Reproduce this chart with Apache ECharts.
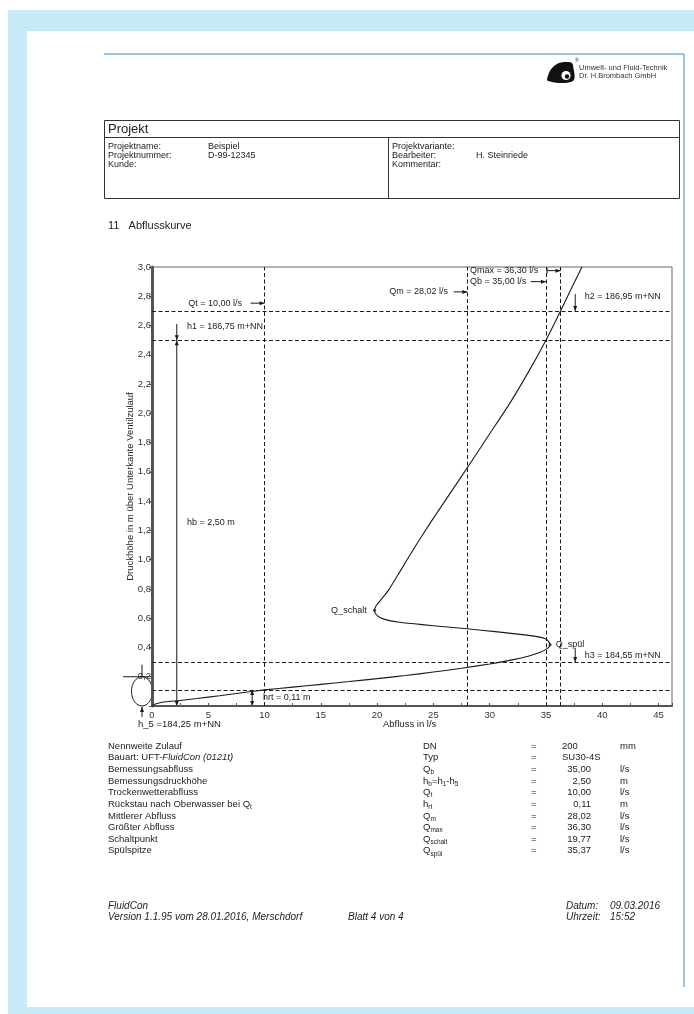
<!DOCTYPE html>
<html>
<head>
<meta charset="utf-8">
<script src="https://cdn.jsdelivr.net/npm/echarts/dist/echarts.min.js"></script>
<style>
html,body{margin:0;padding:0;background:#fff;}
#page{width:694px;height:1014px;}
</style>
</head>
<body>
<div id="page"></div>
<script>
const FONT = '"Liberation Sans", Arial, Helvetica, sans-serif';
const INK = '#1a1a1a';

// Abflusskurve: Abfluss Q [l/s] und Druckhöhe h [m über Unterkante Ventilzulauf]
const curveQ = [0, 0.3, 0.8, 1.5, 2.5, 4, 6, 8, 10, 12.5,
  15, 17.5, 20, 22.5, 25, 27.5, 30, 32, 33.5, 34.6,
  35.2, 35.37, 35.25, 35.0, 34.2, 32.5, 30.5, 28.0, 26.0, 24.0,
  22.0, 21.0, 20.3, 19.9, 19.77, 19.9, 20.3, 21.0, 22.0, 23.3,
  24.8, 26.5, 28.2, 30.0, 31.8, 33.5, 35.0, 36.3, 37.3, 38.2];
const curveH = [0, 0.013, 0.024, 0.031, 0.038, 0.051, 0.070, 0.091, 0.110, 0.129,
  0.148, 0.167, 0.187, 0.208, 0.232, 0.258, 0.287, 0.315, 0.342, 0.370,
  0.397, 0.418, 0.440, 0.458, 0.474, 0.491, 0.508, 0.528, 0.542, 0.556,
  0.572, 0.585, 0.603, 0.627, 0.655, 0.683, 0.722, 0.790, 0.915, 1.080,
  1.260, 1.455, 1.650, 1.860, 2.070, 2.290, 2.500, 2.700, 2.860, 3.000];

// Kennwerte der Drossel
const flowNames = ['Qt', 'Qm', 'Qb', 'Qmax'];
const flowValues = [10.00, 28.02, 35.00, 36.30];
const h5 = 184.25;                       // Unterkante Ventilzulauf [m+NN]
const levelNames = ['h1', 'h2', 'h3'];
const levelAbs = [186.75, 186.95, 184.55];
const hrt = 0.11;
const hb = 2.50;
const pipeDN = 0.200;                    // Nennweite Zulauf [m]
const schaltPoint = [19.77, 0.655];
const spuelPoint = [35.37, 0.418];

// Achsen
const xMin = 0, xMax = 46.2, xStep = 5;
const yMin = 0, yMax = 3.0, yStep = 0.2;

// Kenndaten-Tabelle
const specLabels = ['Nennweite Zulauf', '{n|Bauart: UFT-}{i|FluidCon (0121t)}', 'Bemessungsabfluss',
  'Bemessungsdruckhöhe', 'Trockenwetterabfluss', '{n|Rückstau nach Oberwasser bei Q}{s|t}',
  'Mittlerer Abfluss', 'Größter Abfluss', 'Schaltpunkt', 'Spülspitze'];
const specSymbols = ['{n|DN}', '{n|Typ}', '{n|Q}{s|b}', '{n|h}{s|b}{n|=h}{s|1}{n|-h}{s|5}', '{n|Q}{s|t}',
  '{n|h}{s|rt}', '{n|Q}{s|m}', '{n|Q}{s|max}', '{n|Q}{s|schalt}', '{n|Q}{s|spül}'];
const specValues = ['200', 'SU30-4S', '35,00', '2,50', '10,00', '0,11', '28,02', '36,30', '19,77', '35,37'];
const specUnits = ['mm', '', 'l/s', 'm', 'l/s', 'm', 'l/s', 'l/s', 'l/s', 'l/s'];

const fmt = (v, d) => v.toFixed(d).replace('.', ',');
const levelRel = levelAbs.map(v => +(v - h5).toFixed(3));

const chart = echarts.init(document.getElementById('page'), null, { renderer: 'canvas' });

const grid = { left: 152, top: 267, width: 520, height: 439 };

chart.setOption({
  animation: false,
  backgroundColor: '#ffffff',
  grid: Object.assign({ show: true, borderColor: '#666', borderWidth: 1, backgroundColor: 'transparent' }, grid),
  xAxis: {
    type: 'value', min: xMin, max: xMax, interval: xStep,
    axisLine: { show: true, onZero: false, lineStyle: { color: '#555', width: 2 } },
    axisTick: { show: true, inside: true, length: 3, lineStyle: { color: '#555' } },
    minorTick: { show: true, splitNumber: 2, length: 3, lineStyle: { color: '#666' } },
    splitLine: { show: false },
    axisLabel: {
      fontFamily: FONT, fontSize: 9.5, color: '#333', margin: 4,
      formatter: v => (Math.abs(v / xStep - Math.round(v / xStep)) < 1e-6 ? String(v) : '')
    }
  },
  yAxis: {
    type: 'value', min: yMin, max: yMax, interval: yStep,
    axisLine: { show: true, onZero: false, lineStyle: { color: '#555', width: 3 } },
    axisTick: { show: true, length: 3, lineStyle: { color: '#555' } },
    splitLine: { show: false },
    axisLabel: {
      fontFamily: FONT, fontSize: 9.5, color: '#333', margin: 1,
      formatter: v => (v === 0 ? '' : fmt(v, 1))
    }
  },
  series: [
    {
      type: 'line',
      data: curveQ.map((q, i) => [q, curveH[i]]),
      showSymbol: false,
      smooth: 0.2,
      lineStyle: { color: INK, width: 1.1 },
      clip: true,
      silent: true,
      markLine: {
        silent: true,
        symbol: 'none',
        label: { show: false },
        lineStyle: { color: INK, width: 1, type: [4, 2.5] },
        data: flowValues.map(v => ({ xAxis: v }))
          .concat(levelRel.map(v => ({ yAxis: v })))
          .concat([{ yAxis: hrt }])
      }
    },
    {
      type: 'scatter',
      data: [schaltPoint, spuelPoint],
      symbol: 'circle',
      symbolSize: 3,
      itemStyle: { color: INK },
      silent: true
    }
  ]
});

const P = (q, h) => chart.convertToPixel({ gridIndex: 0 }, [q, h]);

function txt(x, y, text, o = {}) {
  return {
    type: 'text', x, y, silent: true,
    style: Object.assign({
      text, fill: o.fill || '#222',
      font: (o.italic ? 'italic ' : '') + (o.size || 9) + 'px ' + FONT,
      align: o.align || 'left', verticalAlign: o.va || 'middle'
    }, o.rich ? { rich: o.rich } : {})
  };
}
function seg(x1, y1, x2, y2, o = {}) {
  return { type: 'line', silent: true, shape: { x1, y1, x2, y2 },
    style: { stroke: o.stroke || INK, lineWidth: o.width || 1 } };
}
function head(x, y, a, L = 5, W = 2) {
  const c = Math.cos(a), s = Math.sin(a);
  return { type: 'polygon', silent: true,
    shape: { points: [[x, y], [x - L * c + W * s, y - L * s - W * c], [x - L * c - W * s, y - L * s + W * c]] },
    style: { fill: INK } };
}
function arrow(p1, p2, o = {}) {
  const a = Math.atan2(p2[1] - p1[1], p2[0] - p1[0]);
  const els = [seg(p1[0], p1[1], p2[0], p2[1]), head(p2[0], p2[1], a)];
  if (o.both) els.push(head(p1[0], p1[1], a + Math.PI));
  if (o.bar) els.push(seg(p1[0], p1[1] - 3, p1[0], p1[1] + 3));
  return els;
}

const g = [];
// Seitenrahmen
g.push({ type: 'rect', silent: true, shape: { x: 8, y: 10, width: 686, height: 21 }, style: { fill: '#c7e9f8' } });
g.push({ type: 'rect', silent: true, shape: { x: 8, y: 10, width: 19, height: 1004 }, style: { fill: '#c7e9f8' } });
g.push({ type: 'rect', silent: true, shape: { x: 8, y: 1007, width: 686, height: 7 }, style: { fill: '#c7e9f8' } });
g.push(seg(104, 54, 684, 54, { stroke: '#7fb2dc', width: 1.5 }));
g.push(seg(684, 54, 684, 987, { stroke: '#7fb2dc', width: 1.5 }));

// Firmenlogo
g.push({ type: 'polygon', silent: true,
  shape: { smooth: 0.35, points: [[548, 81], [549, 73], [553, 67], [559, 63], [566, 62], [571, 62.5], [573, 65], [573, 81]] },
  style: { fill: '#111' } });
g.push({ type: 'circle', silent: true, shape: { cx: 566, cy: 75.5, r: 4.6 }, style: { fill: '#fff' } });
g.push({ type: 'circle', silent: true, shape: { cx: 567, cy: 76.5, r: 2.2 }, style: { fill: '#111' } });
g.push(txt(575, 61, '®', { size: 5 }));
g.push(txt(579, 68, 'Umwelt- und Fluid-Technik', { size: 7.5, fill: '#333' }));
g.push(txt(579, 76, 'Dr. H.Brombach GmbH', { size: 7.5, fill: '#333' }));

// Projektkasten
g.push({ type: 'rect', silent: true, shape: { x: 104.5, y: 120.5, width: 575, height: 78 }, style: { fill: 'none', stroke: '#333', lineWidth: 1 } });
g.push(seg(104.5, 137.5, 679.5, 137.5, { stroke: '#333' }));
g.push(seg(388.5, 137.5, 388.5, 198.5, { stroke: '#333' }));
g.push(txt(108, 129.5, 'Projekt', { size: 13 }));
const projLeft = [['Projektname:', 'Beispiel'], ['Projektnummer:', 'D-99-12345'], ['Kunde:', '']];
const projRight = [['Projektvariante:', ''], ['Bearbeiter:', 'H. Steinriede'], ['Kommentar:', '']];
const projRowY = i => 146.5 + i * 8.8;
projLeft.forEach((r, i) => { g.push(txt(108, projRowY(i), r[0], { size: 9 })); g.push(txt(208, projRowY(i), r[1], { size: 9 })); });
projRight.forEach((r, i) => { g.push(txt(392, projRowY(i), r[0], { size: 9 })); g.push(txt(476, projRowY(i), r[1], { size: 9 })); });

g.push(txt(108, 226, '11   Abflusskurve', { size: 11 }));

// Achsentitel
g.push({ type: 'text', silent: true, x: 130, y: grid.top + grid.height / 2, rotation: Math.PI / 2,
  style: { text: 'Druckhöhe in m über Unterkante Ventilzulauf', font: '9.5px ' + FONT, fill: '#222', align: 'center', verticalAlign: 'middle' } });
g.push(txt(383, 724, 'Abfluss in l/s', { size: 9.5 }));

// Beschriftung der Kennlinien
const labelQ = [['Qt', 8.0, 2.753, 8.75, 'right'], ['Qm', 26.3, 2.83, 26.8, 'right'],
  ['Qb', 28.25, 2.90, 33.65, 'left'], ['Qmax', 28.25, 2.975, 35.1, 'left']];
labelQ.forEach(([name, tq, th, aq, al]) => {
  const k = flowNames.indexOf(name);
  const t = P(tq, th);
  g.push(txt(t[0], t[1], name + ' = ' + fmt(flowValues[k], 2) + ' l/s', { align: al }));
  g.push(...arrow(P(aq, th), P(flowValues[k], th), { bar: name === 'Qmax' }));
});

// h2 / h3
[['h2', 2.815, 2.80], ['h3', 0.397, 0.342]].forEach(([name, hs, ht]) => {
  const k = levelNames.indexOf(name);
  g.push(...arrow(P(37.6, hs), P(37.6, levelRel[k])));
  const t = P(38.45, ht);
  g.push(txt(t[0], t[1], name + ' = ' + fmt(levelAbs[k], 2) + ' m+NN'));
});

// h1 und hb
{
  const k = levelNames.indexOf('h1');
  const t = P(3.1, 2.59);
  g.push(txt(t[0], t[1], 'h1 = ' + fmt(levelAbs[k], 2) + ' m+NN'));
  const top = P(2.2, 2.61), a = P(2.2, levelRel[k]), b = P(2.2, 0);
  g.push(...arrow(top, a));
  g.push(...arrow(b, a, { both: true }));
  const t2 = P(3.1, 1.253);
  g.push(txt(t2[0], t2[1], 'hb = ' + fmt(hb, 2) + ' m'));
}
// hrt
{
  g.push(...arrow(P(8.9, 0), P(8.9, hrt), { both: true }));
  const t = P(9.86, 0.055);
  g.push(txt(t[0], t[1], 'hrt = ' + fmt(hrt, 2) + ' m'));
}
// Schaltpunkt und Spülspitze
{
  const a = P(schaltPoint[0] - 0.7, schaltPoint[1]);
  g.push(txt(a[0], a[1], 'Q_schalt', { align: 'right' }));
  const b = P(spuelPoint[0] + 0.5, spuelPoint[1] + 0.005);
  g.push(txt(b[0], b[1], 'Q_spül'));
}
// Zulaufrohr DN 200 und Bezugshöhe h5
{
  const o = P(0, 0), d = P(0, pipeDN);
  const cx = o[0] - 10, ry = (o[1] - d[1]) / 2;
  g.push({ type: 'ellipse', silent: true, shape: { cx, cy: o[1] - ry, rx: 10.5, ry }, style: { fill: 'none', stroke: INK, lineWidth: 1 } });
  g.push(seg(o[0] - 29, d[1], o[0], d[1]));
  g.push(seg(cx, d[1] - 12, cx, d[1]));
  g.push(...arrow([cx, o[1] + 11], [cx, o[1] + 1]));
  g.push(txt(cx - 4, 724, 'h_5 =' + fmt(h5, 2) + ' m+NN', { size: 9.5 }));
}

// Kenndaten-Tabelle
const rich = {
  n: { font: '9.5px ' + FONT, fill: '#222' },
  i: { font: 'italic 9.5px ' + FONT, fill: '#222' },
  s: { font: '6.5px ' + FONT, fill: '#222', padding: [6, 0, 0, 0] }
};
specLabels.forEach((lab, i) => {
  const y = 746 + i * 11.65;
  g.push(txt(108, y, lab.indexOf('{') >= 0 ? lab : '{n|' + lab + '}', { size: 9.5, rich }));
  g.push(txt(423, y, specSymbols[i], { size: 9.5, rich }));
  g.push(txt(531, y, '=', { size: 9.5 }));
  const leftAligned = i < 2;
  g.push(txt(leftAligned ? 562 : 591, y, specValues[i], { size: 9.5, align: leftAligned ? 'left' : 'right' }));
  g.push(txt(620, y, specUnits[i], { size: 9.5 }));
});

// Fußzeile
const footSize = 10;
g.push(txt(108, 906, 'FluidCon', { size: footSize, italic: true }));
g.push(txt(108, 917, 'Version 1.1.95 vom 28.01.2016, Merschdorf', { size: footSize, italic: true }));
g.push(txt(348, 917, 'Blatt 4 von 4', { size: footSize, italic: true }));
g.push(txt(566, 906, 'Datum:', { size: footSize, italic: true }));
g.push(txt(610, 906, '09.03.2016', { size: footSize, italic: true }));
g.push(txt(566, 917, 'Uhrzeit:', { size: footSize, italic: true }));
g.push(txt(610, 917, '15:52', { size: footSize, italic: true }));

chart.setOption({ graphic: { elements: g } });
</script>
</body>
</html>
